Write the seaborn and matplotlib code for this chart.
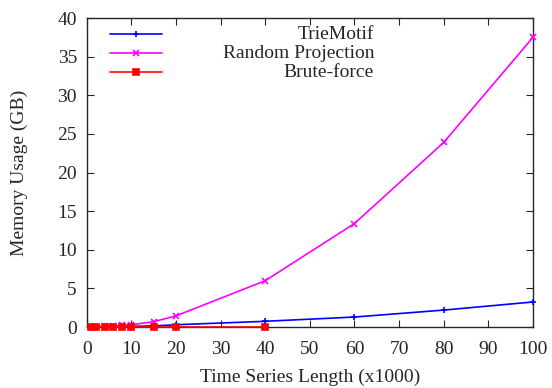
import matplotlib
matplotlib.use("Agg")
import matplotlib.pyplot as plt
import seaborn as sns
import pandas as pd
from matplotlib.lines import Line2D

x_len = [1, 2, 4, 6, 8, 10, 15, 20, 40, 60, 80, 100]
trie_motif = [0.01, 0.02, 0.03, 0.05, 0.07, 0.09, 0.15, 0.3, 0.75, 1.3, 2.2, 3.25]
random_proj = [0.02, 0.05, 0.1, 0.15, 0.22, 0.3, 0.7, 1.45, 6.0, 13.4, 23.9, 37.5]
x_brute = [1, 2, 4, 6, 8, 10, 15, 20, 40]
brute_force = [0.02, 0.02, 0.02, 0.02, 0.02, 0.02, 0.02, 0.02, 0.02]

labels = ["TrieMotif", "Random Projection", "Brute-force"]
colors = ["#0000ff", "#ff00ff", "#ff0000"]
markers = ["+", "x", "s"]
xticks = list(range(0, 101, 10))
yticks = list(range(0, 41, 5))

sns.set_style("ticks")
plt.rcParams["font.family"] = ["Liberation Serif", "DejaVu Serif"]

fig = plt.figure(figsize=(5.52, 3.88), dpi=100)
ax = fig.add_axes([0.157, 0.157, 0.8086, 0.7966])

series = [(x_len, trie_motif), (x_len, random_proj), (x_brute, brute_force)]
for (xs, ys), lab, c, m in zip(series, labels, colors, markers):
    df = pd.DataFrame({"x": xs, "y": ys})
    ms = 4 if m == "s" else 5
    sns.lineplot(data=df, x="x", y="y", ax=ax, color=c, marker=m, markersize=ms,
                 markeredgecolor=c, markeredgewidth=1.2, linewidth=1.2,
                 clip_on=False, zorder=3)

ax.set_xlim(0, 100)
ax.set_ylim(0, 40)
ax.set_xticks(xticks)
ax.set_yticks(yticks)
ax.tick_params(direction="in", top=True, right=True, length=5, width=0.8,
               labelsize=14)
ax.tick_params(axis="x", pad=10)
ax.tick_params(axis="y", pad=7)
for s in ax.spines.values():
    s.set_visible(True)
    s.set_linewidth(1.0)
ax.set_xlabel("Time Series Length (x1000)", fontsize=14, labelpad=8)
ax.set_ylabel("Memory Usage (GB)", fontsize=14, labelpad=21)

# gnuplot-style legend: sample on left, right-aligned text
leg_y = [0.947, 0.886, 0.825]
for yy, lab, c, m in zip(leg_y, labels, colors, markers):
    ax.add_line(Line2D([0.052, 0.169], [yy, yy], transform=ax.transAxes, color=c,
                       linewidth=1.2, zorder=4))
    ms = 4 if m == "s" else 5
    ax.add_line(Line2D([0.11], [yy], transform=ax.transAxes, color=c, marker=m,
                       markersize=ms, markeredgewidth=1.2, zorder=4))
    ax.text(0.644, yy, lab, transform=ax.transAxes, ha="right", va="center",
            fontsize=14)

fig.savefig("out.png", dpi=100)
